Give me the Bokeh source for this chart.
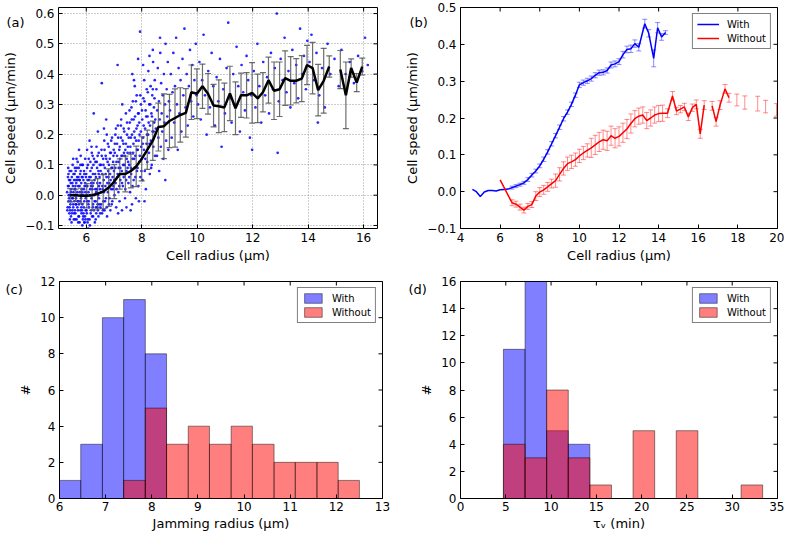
import math
from bokeh.plotting import figure
from bokeh.layouts import column, row
from bokeh.models import (Range1d, FixedTicker, Legend, LegendItem, CustomJSTickFormatter)
from bokeh.embed import file_html
from bokeh.resources import INLINE

NaN = float("nan")
FONT = "DejaVu Sans"

# ---------------- (a) data ----------------
scatter_pts = [
    (5.31,0.01),(5.33,-0.04),(5.34,0.06),(5.36,-0.02),(5.37,0.03),(5.39,-0.06),(5.40,0.08),(5.41,0.00),
    (5.43,-0.03),(5.44,0.04),(5.45,-0.07),(5.46,0.02),(5.48,0.06),(5.49,-0.01),(5.50,-0.05),(5.51,0.10),
    (5.52,0.03),(5.53,-0.03),(5.54,0.01),(5.55,-0.08),(5.56,0.05),(5.57,-0.02),(5.58,0.07),(5.59,-0.05),
    (5.35,0.09),(5.42,-0.05),(5.47,-0.09),(5.53,0.12),(5.38,0.05),(5.57,0.00),
    (5.60,0.02),(5.61,-0.06),(5.62,0.08),(5.63,-0.01),(5.64,0.04),(5.65,-0.08),(5.66,0.00),(5.67,0.06),
    (5.68,-0.04),(5.69,0.11),(5.70,-0.02),(5.71,0.03),(5.72,-0.07),(5.73,0.09),(5.74,-0.03),(5.75,0.05),
    (5.76,-0.09),(5.77,0.01),(5.78,0.07),(5.79,-0.05),(5.80,0.13),(5.81,-0.01),(5.82,0.04),(5.83,-0.06),
    (5.84,0.02),(5.85,0.10),(5.86,-0.03),(5.87,0.06),(5.88,-0.08),(5.89,0.00),(5.90,0.05),(5.91,-0.04),
    (5.92,0.08),(5.93,-0.02),(5.94,0.03),(5.95,-0.07),(5.96,0.12),(5.97,0.01),(5.98,-0.05),(5.99,0.06),
    (5.62,-0.03),(5.74,0.15),(5.86,-0.10),(5.68,0.05),(5.93,-0.09),
    (6.00,0.03),(6.01,-0.05),(6.03,0.09),(6.04,-0.02),(6.05,0.05),(6.06,-0.08),(6.08,0.01),(6.09,0.12),
    (6.10,-0.04),(6.11,0.06),(6.13,-0.10),(6.14,0.02),(6.15,0.08),(6.16,-0.06),(6.18,0.04),(6.19,-0.01),
    (6.20,0.14),(6.21,-0.07),(6.23,0.03),(6.24,0.07),(6.25,-0.03),(6.26,0.10),(6.28,-0.05),(6.29,0.00),
    (6.30,0.05),(6.31,-0.09),(6.33,0.11),(6.34,-0.02),(6.35,0.06),(6.36,-0.06),(6.38,0.02),(6.39,0.09),
    (6.40,-0.04),(6.41,0.13),(6.43,0.00),(6.44,-0.07),(6.45,0.07),(6.46,0.03),(6.48,-0.03),(6.49,0.10),
    (6.12,0.18),(6.27,0.27),(6.42,0.21),(6.07,-0.11),(6.37,0.16),
    (6.50,0.04),(6.51,-0.04),(6.53,0.10),(6.54,0.01),(6.55,0.15),(6.57,-0.06),(6.58,0.07),(6.59,0.02),
    (6.61,0.12),(6.62,-0.02),(6.63,0.05),(6.65,0.18),(6.66,-0.05),(6.67,0.09),(6.69,0.03),(6.70,0.13),
    (6.71,-0.01),(6.73,0.06),(6.74,0.20),(6.75,-0.07),(6.77,0.11),(6.78,0.01),(6.79,0.08),(6.81,0.16),
    (6.82,-0.03),(6.83,0.04),(6.85,0.12),(6.86,0.07),(6.87,-0.05),(6.89,0.14),(6.90,0.02),(6.91,0.09),
    (6.93,0.19),(6.94,-0.02),(6.95,0.06),(6.97,0.11),(6.98,0.03),(6.99,0.15),(6.56,0.37),(6.72,0.25),
    (7.00,0.08),(7.02,0.00),(7.03,0.14),(7.05,0.20),(7.06,0.04),(7.08,-0.04),(7.09,0.11),(7.11,0.17),
    (7.12,0.06),(7.13,0.43),(7.14,0.23),(7.16,0.01),(7.17,0.09),(7.19,0.15),(7.20,-0.02),(7.22,0.12),
    (7.23,0.05),(7.25,0.19),(7.26,0.25),(7.28,0.08),(7.29,-0.05),(7.31,0.13),(7.32,0.03),(7.34,0.17),
    (7.35,0.22),(7.37,0.07),(7.38,0.10),(7.40,-0.01),(7.41,0.15),(7.43,0.27),(7.44,0.05),(7.46,0.12),
    (7.47,0.20),(7.49,0.09),(7.15,-0.06),(7.30,0.30),(7.45,-0.04),(7.36,0.14),
    (7.50,0.16),(7.52,0.04),(7.53,0.22),(7.55,0.10),(7.56,0.28),(7.58,0.01),(7.59,0.14),(7.61,0.19),
    (7.62,0.07),(7.64,0.25),(7.65,-0.03),(7.67,0.12),(7.68,0.31),(7.70,0.17),(7.71,0.05),(7.73,0.21),
    (7.74,0.09),(7.76,0.26),(7.77,0.13),(7.79,-0.01),(7.80,0.18),(7.82,0.33),(7.83,0.08),(7.85,0.23),
    (7.86,0.15),(7.88,0.03),(7.89,0.27),(7.91,0.11),(7.92,0.20),(7.94,0.54),(7.95,0.06),(7.97,0.30),
    (7.98,0.16),(7.60,-0.05),(7.75,0.36),(7.90,-0.02),(7.66,0.40),(7.87,0.45),
    (8.00,0.12),(8.02,0.25),(8.03,0.05),(8.05,0.19),(8.06,0.32),(8.08,0.15),(8.09,0.38),(8.11,0.08),
    (8.12,0.22),(8.14,0.28),(8.15,0.02),(8.17,0.17),(8.18,0.35),(8.20,0.11),(8.21,0.26),(8.23,0.20),
    (8.24,0.41),(8.26,0.14),(8.27,0.30),(8.29,0.07),(8.30,0.23),(8.32,0.36),(8.33,0.18),(8.35,0.27),
    (8.36,0.10),(8.38,0.33),(8.39,0.21),(8.41,0.44),(8.42,0.16),(8.44,0.29),(8.45,0.24),(8.47,0.38),
    (8.48,0.13),(8.10,-0.02),(8.40,0.48),
    (8.51,0.22),(8.53,0.35),(8.55,0.13),(8.56,0.28),(8.58,0.42),(8.60,0.19),(8.62,0.31),(8.63,0.08),
    (8.65,0.25),(8.67,0.47),(8.69,0.16),(8.70,0.37),(8.72,0.27),(8.74,0.21),(8.76,0.33),(8.78,0.12),
    (8.80,0.40),(8.82,0.24),(8.84,0.30),(8.86,0.50),(8.88,0.18),(8.90,0.35),(8.92,0.26),(8.94,0.44),
    (8.96,0.15),(8.98,0.31),(8.66,0.52),(8.85,0.05),
    (9.02,0.28),(9.05,0.40),(9.08,0.19),(9.11,0.34),(9.14,0.47),(9.17,0.24),(9.20,0.36),(9.24,0.52),
    (9.27,0.30),(9.30,0.15),(9.33,0.42),(9.36,0.27),(9.40,0.38),(9.43,0.21),(9.47,0.45),(9.50,0.33),
    (9.54,0.55),(9.58,0.29),(9.62,0.40),(9.66,0.23),(9.70,0.36),(9.74,0.48),(9.78,0.31),(9.82,0.43),
    (9.86,0.26),(9.90,0.38),(9.95,0.50),(9.98,0.33),
    (10.03,0.30),(10.08,0.44),(10.13,0.25),(10.18,0.38),(10.23,0.53),(10.28,0.33),(10.34,0.20),
    (10.40,0.41),(10.46,0.29),(10.52,0.47),(10.58,0.36),(10.64,0.23),(10.70,0.39),(10.76,0.31),
    (10.82,0.45),(10.88,0.16),(10.94,0.35),(11.00,0.27),(11.06,0.42),(11.12,0.57),(11.18,0.32),
    (11.24,0.24),(11.30,0.40),(11.36,0.30),(11.42,0.49),(11.48,0.36),(11.54,0.21),(11.60,0.43),
    (11.66,0.34),(11.72,0.28),(11.78,0.46),(11.84,0.38),(11.90,0.19),(11.95,0.33),(11.98,0.15),
    (12.04,0.41),(12.10,0.29),(12.17,0.50),(12.24,0.36),(12.31,0.24),(12.38,0.44),(12.45,0.33),
    (12.52,0.39),(12.59,0.27),(12.66,0.47),(12.73,0.35),(12.80,0.42),(12.87,0.60),(12.94,0.31),
    (13.01,0.45),(13.08,0.38),(13.15,0.52),(13.22,0.34),(13.29,0.41),(13.36,0.29),(13.43,0.48),
    (13.50,0.37),(13.57,0.43),(13.64,0.32),(13.71,0.55),(13.78,0.40),(13.85,0.46),(13.92,0.35),
    (13.97,0.51),(12.90,0.14),
    (14.05,0.44),(14.12,0.53),(14.20,0.38),(14.30,0.47),(14.40,0.33),(14.50,0.42),(14.60,0.29),
    (14.70,0.50),(14.80,0.40),(14.95,0.45),(15.10,0.36),(15.20,0.48),(15.35,0.40),(15.50,0.44),
    (15.65,0.37),(15.80,0.46),(15.95,0.41),(16.05,0.52),(16.15,0.43),(14.35,0.24),
    # denser core of the cloud
    (5.32,-0.05),(5.34,0.03),(5.36,0.07),(5.38,-0.01),(5.40,-0.04),(5.42,0.05),(5.44,-0.02),(5.46,0.08),
    (5.48,-0.06),(5.50,0.04),(5.52,-0.01),(5.54,0.07),(5.56,-0.06),(5.58,0.02),(5.60,-0.08),(5.62,0.05),
    (5.64,-0.03),(5.66,0.09),(5.68,0.01),(5.70,-0.05),(5.72,0.06),(5.74,-0.07),(5.76,0.03),(5.78,-0.02),
    (5.80,0.08),(5.82,-0.04),(5.84,0.06),(5.86,0.01),(5.88,0.10),(5.90,-0.06),(5.92,0.02),(5.94,-0.09),
    (5.96,0.04),(5.98,-0.01),(6.00,0.07),(6.02,-0.06),(6.04,0.03),(6.06,0.10),(6.08,-0.03),(6.10,0.05),
    (6.12,-0.08),(6.14,0.00),(6.16,0.06),(6.18,-0.05),(6.20,0.09),(6.22,0.02),(6.24,-0.04),(6.26,0.04),
    (6.28,0.12),(6.30,-0.02),(6.32,0.07),(6.34,-0.08),(6.36,0.01),(6.38,0.11),(6.40,0.04),(6.42,-0.05),
    (6.44,0.08),(6.46,-0.01),(6.48,0.06),(6.50,-0.06),(5.37,0.00),(5.45,0.01),(5.53,-0.04),(5.61,0.03),
    (5.69,-0.02),(5.77,0.05),(5.85,-0.05),(5.93,0.07),(6.01,0.00),(6.09,-0.02),(6.17,0.03),(6.25,-0.07),
    (6.33,0.02),(6.41,-0.03),(6.49,0.02),(5.41,-0.08),(5.59,0.09),(5.79,0.10),(5.97,-0.08),(6.15,0.11),
    (6.35,-0.04),(5.71,-0.09),(5.89,-0.07),(6.05,-0.09),(6.23,0.13),(6.45,0.14),(5.65,0.12),(5.83,0.00),
    (6.03,0.15),(6.19,0.16),
    (6.52,0.08),(6.54,-0.03),(6.56,0.13),(6.58,0.03),(6.60,-0.05),(6.62,0.10),(6.64,0.01),(6.66,0.15),
    (6.68,-0.02),(6.70,0.07),(6.72,0.12),(6.74,-0.04),(6.76,0.04),(6.78,0.17),(6.80,0.06),(6.82,0.10),
    (6.84,-0.01),(6.86,0.14),(6.88,0.05),(6.90,0.18),(6.92,-0.03),(6.94,0.09),(6.96,0.02),(6.98,0.13),
    (7.01,0.05),(7.03,0.17),(7.05,0.09),(7.07,0.22),(7.09,0.02),(7.11,0.13),(7.13,0.07),(7.15,0.19),
    (7.17,0.11),(7.19,0.03),(7.21,0.16),(7.23,0.09),(7.25,0.23),(7.27,0.13),(7.29,0.04),(7.31,0.18),
    (7.33,0.10),(7.35,0.06),(7.37,0.21),(7.39,0.13),(7.41,0.02),(7.43,0.17),(7.45,0.08),(7.47,0.24),
    (7.49,0.14),(6.64,0.22),
    (7.51,0.11),(7.53,0.19),(7.55,0.06),(7.57,0.24),(7.59,0.16),(7.61,0.09),(7.63,0.29),(7.65,0.20),
    (7.67,0.03),(7.69,0.14),(7.71,0.25),(7.73,0.12),(7.75,0.19),(7.77,0.06),(7.79,0.31),(7.81,0.22),
    (7.83,0.15),(7.85,0.09),(7.87,0.27),(7.89,0.18),(7.91,0.24),(7.93,0.13),(7.95,0.33),(7.97,0.21),
    (7.99,0.08),(8.01,0.28),(8.04,0.17),(8.07,0.23),(8.10,0.31),(8.13,0.12),(8.16,0.26),(8.19,0.20),
    (8.22,0.34),(8.25,0.24),(8.28,0.17),(8.31,0.30),(8.34,0.09),(8.37,0.26),(8.40,0.35),(8.43,0.21),
    (8.46,0.32),(8.49,0.25),(8.05,0.43),(8.28,0.46),(7.72,0.38),
]
scatter_x = [pt[0] for pt in scatter_pts]
scatter_y = [pt[1] for pt in scatter_pts]

a_radius = [5.42, 5.62, 5.82, 6.02, 6.21, 6.41, 6.61, 6.81, 7.01, 7.21,
            7.41, 7.61, 7.80, 8.00, 8.20, 8.40, 8.60, 8.80, 9.00, 9.20,
            9.39, 9.59, 9.79, 9.99, 10.19, 10.39, 10.59, 10.78, 10.98, 11.18,
            11.38, 11.58, 11.78, 11.98, 12.18, 12.37, 12.57, 12.77, 12.97, 13.17,
            13.37, 13.57, 13.77, 13.96, 14.16, 14.36, 14.56, 14.76, 14.96, 15.16,
            15.36, 15.55, 15.75, 15.95]
a_mean = [0.000, 0.000, -0.002, -0.002, 0.000, 0.005, 0.012, 0.025, 0.045, 0.070,
          0.070, 0.080, 0.095, 0.120, 0.150, 0.180, 0.225, 0.228, 0.245, 0.255,
          0.265, 0.272, 0.340, 0.335, 0.360, 0.335, 0.296, 0.294, 0.290, 0.336,
          0.287, 0.330, 0.330, 0.338, 0.320, 0.340, 0.380, 0.345, 0.350, 0.387,
          0.378, 0.378, 0.385, 0.430, 0.420, 0.347, 0.378, 0.425, NaN, 0.415,
          0.330, 0.420, 0.372, 0.425]
a_err = [0.022, 0.020, 0.025, 0.040, 0.050, 0.050, 0.056, 0.062, 0.056, 0.050,
         0.059, 0.056, 0.067, 0.073, 0.065, 0.065, 0.079, 0.107, 0.088, 0.096,
         0.090, 0.080, 0.090, 0.082, 0.073, 0.067, 0.070, 0.087, 0.080, 0.090,
         0.087, 0.073, 0.075, 0.100, 0.080, 0.065, 0.076, 0.095, 0.090, 0.090,
         0.080, 0.073, 0.076, 0.065, 0.085, 0.085, 0.107, 0.035, NaN, 0.063,
         0.110, 0.030, 0.030, 0.028]

# ---------------- (b) data ----------------
b_with_x = [4.6, 4.8, 5.0, 5.2, 5.4, 5.6, 5.8, 6.0, 6.2, 6.4, 6.6, 6.8, 7.0, 7.2, 7.4,
            7.6, 7.8, 8.0, 8.2, 8.4, 8.6, 8.8, 9.0, 9.2, 9.4, 9.6, 9.8, 10.0, 10.2, 10.4,
            10.6, 10.8, 11.0, 11.2, 11.4, 11.6, 11.8, 12.0, 12.2, 12.4, 12.6, 12.8, 13.0,
            13.3, 13.5, 13.75, 13.95, 14.15, 14.35]
b_with_y = [0.006, 0.000, -0.013, -0.001, 0.003, 0.003, 0.002, 0.005, 0.006, 0.007,
            0.011, 0.015, 0.019, 0.024, 0.033, 0.045, 0.056, 0.070, 0.088, 0.108,
            0.130, 0.152, 0.175, 0.198, 0.216, 0.237, 0.262, 0.290, 0.296, 0.301,
            0.307, 0.316, 0.323, 0.324, 0.329, 0.344, 0.347, 0.353, 0.372, 0.386,
            0.388, 0.402, 0.392, 0.456, 0.430, 0.362, 0.445, 0.420, 0.432]
b_with_err = [0, 0, 0, 0, 0, 0, 0, 0, 0, 0,
              0.004, 0.004, 0.004, 0.004, 0.005, 0.005, 0.005, 0.005, 0.006, 0.006,
              0.006, 0.006, 0.006, 0.006, 0.006, 0.006, 0.006, 0.007, 0.007, 0.007,
              0.007, 0.007, 0.007, 0.007, 0.007, 0.008, 0.008, 0.008, 0.009, 0.009,
              0.010, 0.010, 0.010, 0.012, 0.010, 0.023, 0.014, 0.009, 0.005]

b_without_x = [6.0, 6.6, 6.8, 7.0, 7.2, 7.4, 7.6, 7.8, 8.0, 8.2, 8.4, 8.6, 8.8, 9.0, 9.2,
               9.4, 9.6, 9.8, 10.0, 10.2, 10.4, 10.6, 10.8, 11.0, 11.2, 11.4, 11.6, 11.8,
               12.0, 12.2, 12.4, 12.6, 12.8, 13.0, 13.2, 13.4, 13.6, 13.8, 14.0, 14.2,
               14.45, 14.7, 14.9, 15.1, 15.3, 15.5, 15.7, 15.9, 16.1, 16.3, 16.5, 16.7,
               16.9, 17.1, 17.35, 17.55, 17.75, 17.95, 18.15, 18.35, 18.65, 19.0, 19.2,
               19.4, 19.7, 19.95]
b_without_y = [0.032, -0.030, -0.034, -0.042, -0.050, -0.040, -0.035, -0.012, -0.001, 0.005,
               0.013, 0.022, 0.030, 0.047, 0.063, 0.076, 0.081, 0.087, 0.097, 0.105,
               0.112, 0.119, 0.127, 0.135, 0.141, 0.138, 0.152, 0.145, 0.150, 0.160,
               0.170, 0.185, 0.198, 0.205, 0.208, 0.193, 0.200, 0.208, 0.212, 0.213,
               0.213, 0.260, 0.219, 0.224, 0.230, 0.203, 0.228, 0.237, 0.157, 0.235,
               NaN, 0.233, 0.190, 0.235, 0.279, 0.255, NaN, 0.249, NaN, 0.242,
               NaN, 0.239, NaN, 0.231, NaN, 0.222]
b_without_err = [0, 0.008, 0.008, 0.008, 0.008, 0.008, 0.008, 0.012, 0.012, 0.012,
                 0.012, 0.012, 0.018, 0.018, 0.018, 0.018, 0.018, 0.018, 0.018, 0.018,
                 0.018, 0.026, 0.026, 0.026, 0.026, 0.026, 0.026, 0.026, 0.026, 0.026,
                 0.026, 0.026, 0.022, 0.022, 0.022, 0.022, 0.022, 0.022, 0.022, 0.022,
                 0.012, 0.012, 0.010, 0.010, 0.010, 0.010, 0.010, 0.012, 0.012, 0.012,
                 NaN, 0.012, 0.012, 0.012, 0.012, 0.012, NaN, 0.016, NaN, 0.018,
                 NaN, 0.020, NaN, 0.017, NaN, 0.017]

# ---------------- (c) data ----------------
c_edges = [6.0, 6.46, 6.93, 7.39, 7.86, 8.32, 8.79, 9.25, 9.72, 10.18, 10.65, 11.11,
           11.58, 12.04, 12.5]
c_with_counts = [1, 3, 10, 11, 8, 0, 0, 0, 0, 0, 0, 0, 0, 0]
c_without_counts = [0, 0, 0, 1, 5, 3, 4, 3, 4, 3, 2, 2, 2, 1]

# ---------------- (d) data ----------------
d_edges = [4.74, 7.13, 9.51, 11.90, 14.28, 16.67, 19.05, 21.44, 23.82, 26.21, 28.59,
           30.98, 33.36]
d_with_counts = [11, 16, 5, 4, 0, 0, 0, 0, 0, 0, 0, 0]
d_without_counts = [4, 3, 8, 3, 1, 0, 5, 0, 5, 0, 0, 1]

# ---------------- tick labels ----------------
a_xticks = [6, 8, 10, 12, 14, 16]
a_yticks = [-0.1, 0.0, 0.1, 0.2, 0.3, 0.4, 0.5, 0.6]
b_xticks = [4, 6, 8, 10, 12, 14, 16, 18, 20]
b_yticks = [-0.1, 0.0, 0.1, 0.2, 0.3, 0.4, 0.5]
c_xticks = [6, 7, 8, 9, 10, 11, 12, 13]
c_yticks = [0, 2, 4, 6, 8, 10, 12]
d_xticks = [0, 5, 10, 15, 20, 25, 30, 35]
d_yticks = [0, 2, 4, 6, 8, 10, 12, 14, 16]

one_dec = CustomJSTickFormatter(code="return (tick < -1e-9 ? '\u2212' : '') + Math.abs(tick).toFixed(1);")


def make_fig(width, height, xr, yr, bl, br, bt, bb, label, dx, sd):
    p = figure(width=width, height=height, x_range=Range1d(*xr), y_range=Range1d(*yr),
               output_backend="svg", toolbar_location=None, tools="",
               min_border_left=bl, min_border_right=br, min_border_top=bt,
               min_border_bottom=bb)
    p.outline_line_color = "black"
    p.outline_line_width = 1
    p.background_fill_color = "white"
    p.border_fill_color = "white"
    # panel letter, drawn as the (left-aligned) title, pulled down beside the frame
    p.title.text = label
    p.title.align = "left"
    p.title.offset = dx
    p.title.standoff = sd
    p.title.vertical_align = "bottom"
    p.title.text_font = FONT
    p.title.text_font_size = "13px"
    p.title.text_font_style = "normal"
    p.title.text_color = "black"
    return p


def style_axes(p, xticks, yticks, xr, yr, xlabel, ylabel, grid=False, yfmt=None, xs=(4, 3)):
    xa = p.xaxis[0]
    ya = p.yaxis[0]
    xa.ticker = FixedTicker(ticks=xticks)
    ya.ticker = FixedTicker(ticks=yticks)
    xa.axis_label = xlabel
    ya.axis_label = ylabel
    if yfmt is not None:
        ya.formatter = yfmt
    for ax in (xa, ya):
        ax.major_tick_in = 4
        ax.major_tick_out = 0
        ax.minor_tick_line_color = None
        ax.axis_line_color = None
        ax.major_tick_line_color = "black"
        ax.major_label_text_font = FONT
        ax.major_label_text_font_size = "12px"
        ax.major_label_text_color = "black"
        ax.axis_label_text_font = FONT
        ax.axis_label_text_font_size = "13px"
        ax.axis_label_text_font_style = "normal"
        ax.axis_label_text_color = "black"
        ax.major_label_standoff = 4
        ax.axis_label_standoff = 4
    xa.major_label_standoff = xs[0]
    xa.axis_label_standoff = xs[1]
    if grid:
        p.xgrid.ticker = FixedTicker(ticks=xticks)
        p.ygrid.ticker = FixedTicker(ticks=yticks)
        p.grid.grid_line_color = "#9a9a9a"
        p.grid.grid_line_dash = "1 2"
        p.grid.grid_line_width = 1
    else:
        p.grid.visible = False
    # mirrored tick marks on the top and right frame edges (clipped to the frame)
    p.scatter(xticks, [yr[1]] * len(xticks), marker="dash", angle=math.pi / 2, size=8,
              line_color="black", line_width=1)
    p.scatter([xr[1]] * len(yticks), yticks, marker="dash", size=8,
              line_color="black", line_width=1)


def errorbars(p, xs, ys, errs, color, alpha, width, cap):
    ex, lo, hi = [], [], []
    for x, y, e in zip(xs, ys, errs):
        if y == y and e == e and e > 0:
            ex.append(x)
            lo.append(y - e)
            hi.append(y + e)
    p.segment(x0=ex, y0=lo, x1=ex, y1=hi, line_color=color, line_alpha=alpha, line_width=width)
    p.scatter(ex, lo, marker="dash", size=cap, line_color=color, line_alpha=alpha, line_width=width)
    p.scatter(ex, hi, marker="dash", size=cap, line_color=color, line_alpha=alpha, line_width=width)


def style_legend(leg):
    leg.location = "top_right"
    leg.label_text_font = FONT
    leg.label_text_font_size = "10px"
    leg.label_text_color = "black"
    leg.border_line_color = "black"
    leg.border_line_width = 1
    leg.background_fill_alpha = 1
    leg.glyph_width = 22
    leg.glyph_height = 12
    leg.label_height = 12
    leg.label_standoff = 8
    leg.padding = 4
    leg.spacing = 2
    leg.margin = 6


# ---------------- panel (a) ----------------
a_xr, a_yr = (5.0, 16.5), (-0.11, 0.62)
pa = make_fig(392, 266, a_xr, a_yr, 54, 15, 7, 38, "(a)", -52, -45)
style_axes(pa, a_xticks, a_yticks, a_xr, a_yr, "Cell radius (\u03bcm)", "Cell speed (\u03bcm/min)",
           grid=True, yfmt=one_dec, xs=(4, 3))
pa.scatter(scatter_x, scatter_y, size=2.7, marker="circle", fill_color="blue", fill_alpha=0.85,
           line_color=None)
errorbars(pa, a_radius, a_mean, a_err, "#555555", 0.85, 1.2, 6)
pa.line(a_radius, a_mean, line_color="black", line_width=2.5)

# ---------------- panel (b) ----------------
b_xr, b_yr = (4, 20), (-0.1, 0.5)
pb = make_fig(392, 266, b_xr, b_yr, 68, 7, 7, 38, "(b)", -51, -45)
style_axes(pb, b_xticks, b_yticks, b_xr, b_yr, "Cell radius (\u03bcm)", "Cell speed (\u03bcm/min)",
           yfmt=one_dec, xs=(4, 3))
errorbars(pb, b_with_x, b_with_y, b_with_err, "blue", 0.45, 1, 5)
l_with = pb.line(b_with_x, b_with_y, line_color="blue", line_width=1.5)
errorbars(pb, b_without_x, b_without_y, b_without_err, "red", 0.45, 1, 5)
l_without = pb.line(b_without_x, b_without_y, line_color="red", line_width=1.5)
leg_b = Legend(items=[LegendItem(label="With", renderers=[l_with]),
                      LegendItem(label="Without", renderers=[l_without])])
style_legend(leg_b)
pb.add_layout(leg_b)


def hist(p, edges, counts, color):
    l, r, t = [], [], []
    for i, c in enumerate(counts):
        if c > 0:
            l.append(edges[i])
            r.append(edges[i + 1])
            t.append(c)
    return p.quad(left=l, right=r, bottom=0, top=t, fill_color=color, fill_alpha=0.5,
                  line_color="black", line_alpha=0.45, line_width=1)


# ---------------- panel (c) ----------------
c_xr, c_yr = (6, 13), (0, 12)
pc = make_fig(392, 267, c_xr, c_yr, 59, 10, 15, 34, "(c)", -54, -31)
hc1 = hist(pc, c_edges, c_with_counts, "blue")
hc2 = hist(pc, c_edges, c_without_counts, "red")
style_axes(pc, c_xticks, c_yticks, c_xr, c_yr, "Jamming radius (\u03bcm)", "#", xs=(3, 2))
leg_c = Legend(items=[LegendItem(label="With", renderers=[hc1]),
                      LegendItem(label="Without", renderers=[hc2])])
style_legend(leg_c)
pc.add_layout(leg_c)

# ---------------- panel (d) ----------------
d_xr, d_yr = (0, 35), (0, 16)
pd_ = make_fig(392, 267, d_xr, d_yr, 68, 7, 15, 34, "(d)", -52, -31)
hd1 = hist(pd_, d_edges, d_with_counts, "blue")
hd2 = hist(pd_, d_edges, d_without_counts, "red")
style_axes(pd_, d_xticks, d_yticks, d_xr, d_yr, "\u03c4\u1d65 (min)", "#", xs=(3, 2))
leg_d = Legend(items=[LegendItem(label="With", renderers=[hd1]),
                      LegendItem(label="Without", renderers=[hd2])])
style_legend(leg_d)
pd_.add_layout(leg_d)

layout = column(row(pa, pb), row(pc, pd_))

with open("out.html", "w") as f:
    f.write(file_html(layout, INLINE))
